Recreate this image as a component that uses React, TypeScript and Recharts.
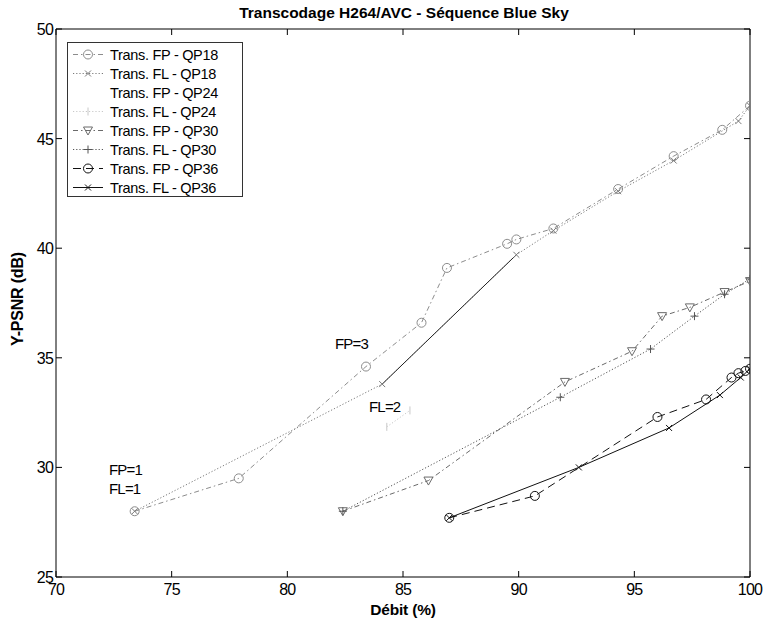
import React from 'react';
import { LineChart, Line, XAxis, YAxis, Legend } from 'recharts';

const xTicks = [70, 75, 80, 85, 90, 95, 100];
const yTicks = [25, 30, 35, 40, 45, 50];

const fpQp18 = [
  { x: 73.4, y: 28.0 }, { x: 77.9, y: 29.5 }, { x: 83.4, y: 34.6 }, { x: 85.8, y: 36.6 },
  { x: 86.9, y: 39.1 }, { x: 89.5, y: 40.2 }, { x: 89.9, y: 40.4 }, { x: 91.5, y: 40.9 },
  { x: 94.3, y: 42.7 }, { x: 96.7, y: 44.2 }, { x: 98.8, y: 45.4 }, { x: 100, y: 46.5 },
];
const flQp18 = [
  { x: 73.4, y: 28.0 }, { x: 84.1, y: 33.8 }, { x: 89.9, y: 39.7 }, { x: 91.5, y: 40.8 },
  { x: 94.3, y: 42.6 }, { x: 96.7, y: 44.0 }, { x: 99.5, y: 45.8 }, { x: 100, y: 46.5 },
];
const flQp18Solid = [{ x: 84.1, y: 33.8 }, { x: 89.9, y: 39.7 }];
const fpQp24: { x: number; y: number }[] = [];
const flQp24 = [{ x: 84.3, y: 31.85 }, { x: 85.3, y: 32.6 }];
const fpQp30 = [
  { x: 82.4, y: 28.0 }, { x: 86.1, y: 29.4 }, { x: 92.0, y: 33.9 }, { x: 94.9, y: 35.3 },
  { x: 96.2, y: 36.9 }, { x: 97.4, y: 37.3 }, { x: 98.9, y: 38.0 }, { x: 100, y: 38.5 },
];
const flQp30 = [
  { x: 82.4, y: 28.0 }, { x: 91.8, y: 33.2 }, { x: 95.7, y: 35.4 }, { x: 97.6, y: 36.9 },
  { x: 98.9, y: 37.9 }, { x: 100, y: 38.6 },
];
const fpQp36 = [
  { x: 87.0, y: 27.7 }, { x: 90.7, y: 28.7 }, { x: 96.0, y: 32.3 }, { x: 98.1, y: 33.1 },
  { x: 99.2, y: 34.1 }, { x: 99.5, y: 34.3 }, { x: 99.8, y: 34.4 }, { x: 100, y: 34.5 },
];
const flQp36 = [
  { x: 87.0, y: 27.7 }, { x: 92.6, y: 30.0 }, { x: 96.5, y: 31.8 }, { x: 98.7, y: 33.3 },
  { x: 99.6, y: 34.1 }, { x: 100, y: 34.5 },
];

const seriesNames = [
  'Trans. FP - QP18', 'Trans. FL - QP18', 'Trans. FP - QP24', 'Trans. FL - QP24',
  'Trans. FP - QP30', 'Trans. FL - QP30', 'Trans. FP - QP36', 'Trans. FL - QP36',
];

const FONT = '"Liberation Sans", Arial, Helvetica, sans-serif';

type Kind = 'circle' | 'tri' | 'plus' | 'cross' | 'vbar' | 'none';

const styles: { color: string; dash: string; marker: Kind; width: number }[] = [
  { color: '#8c8c8c', dash: '5 3 1.5 3', marker: 'circle', width: 1 },
  { color: '#7a7a7a', dash: '1.2 2', marker: 'cross', width: 1 },
  { color: '#ffffff', dash: '', marker: 'none', width: 1 },
  { color: '#c8c8c8', dash: '1.2 2', marker: 'vbar', width: 1 },
  { color: '#6a6a6a', dash: '5 3 1.5 3', marker: 'tri', width: 1 },
  { color: '#555555', dash: '1.2 2', marker: 'plus', width: 1 },
  { color: '#111111', dash: '8 5', marker: 'circle', width: 1 },
  { color: '#111111', dash: '', marker: 'cross', width: 1 },
];

function Marker({ kind, cx, cy, color }: { kind: Kind; cx: number; cy: number; color: string }) {
  if (kind === 'circle') return <circle cx={cx} cy={cy} r={4.5} fill="none" stroke={color} strokeWidth={1} />;
  if (kind === 'tri')
    return (
      <polygon
        points={`${cx - 4.5},${cy - 3.5} ${cx + 4.5},${cy - 3.5} ${cx},${cy + 4.5}`}
        fill="none" stroke={color} strokeWidth={1}
      />
    );
  if (kind === 'plus')
    return <path d={`M${cx - 4},${cy}H${cx + 4}M${cx},${cy - 4}V${cy + 4}`} stroke={color} strokeWidth={1} fill="none" />;
  if (kind === 'cross')
    return (
      <path d={`M${cx - 3},${cy - 3}L${cx + 3},${cy + 3}M${cx - 3},${cy + 3}L${cx + 3},${cy - 3}`} stroke={color} strokeWidth={1} fill="none" />
    );
  if (kind === 'vbar') return <path d={`M${cx},${cy - 4}V${cy + 4}`} stroke={color} strokeWidth={1} />;
  return null;
}

const dotFor = (i: number) => (p: any) => {
  const { cx, cy, index } = p;
  const key = `d-${i}-${index}`;
  if (cx == null || cy == null) return <g key={key} />;
  return (
    <g key={key}>
      <Marker kind={styles[i].marker} cx={cx} cy={cy} color={styles[i].color} />
    </g>
  );
};

const BottomTick = (p: any) => (
  <g>
    <line x1={p.x} y1={p.y} x2={p.x} y2={p.y - 6} stroke="#000" />
    <text x={p.x} y={p.y + 18} textAnchor="middle" fontSize={16} fontFamily={FONT} fill="#000" letterSpacing={-0.8}>
      {p.payload.value}
    </text>
  </g>
);
const TopTick = (p: any) => <line x1={p.x} y1={p.y} x2={p.x} y2={p.y + 6} stroke="#000" />;
const LeftTick = (p: any) => (
  <g>
    <line x1={p.x} y1={p.y} x2={p.x + 6} y2={p.y} stroke="#000" />
    <text x={p.x - 3} y={p.y + 6} textAnchor="end" fontSize={16} fontFamily={FONT} fill="#000" letterSpacing={-0.8}>
      {p.payload.value}
    </text>
  </g>
);
const RightTick = (p: any) => <line x1={p.x} y1={p.y} x2={p.x - 6} y2={p.y} stroke="#000" />;

const renderLegend = () => (
  <div
    style={{
      width: 176, height: 155, boxSizing: 'border-box', border: '1px solid #333', background: '#fff',
      paddingTop: 2, fontFamily: FONT,
    }}
  >
    {seriesNames.map((n, i) => (
      <div key={n} style={{ display: 'flex', alignItems: 'center', height: 19 }}>
        <svg width={42} height={19} style={{ display: 'block' }}>
          {styles[i].color !== '#ffffff' ? (
            <line x1={5} y1={9.5} x2={35} y2={9.5} stroke={styles[i].color} strokeDasharray={styles[i].dash || undefined} />
          ) : null}
          <Marker kind={styles[i].marker} cx={20} cy={9.5} color={styles[i].color} />
        </svg>
        <span style={{ fontSize: 14.5, color: '#000', letterSpacing: -0.3, whiteSpace: 'nowrap' }}>{n}</span>
      </div>
    ))}
  </div>
);

const seriesData = [fpQp18, flQp18, fpQp24, flQp24, fpQp30, flQp30, fpQp36, flQp36];

const abs = (left: number, top: number, extra: React.CSSProperties = {}): React.CSSProperties => ({
  position: 'absolute', left, top, fontFamily: FONT, color: '#000', whiteSpace: 'nowrap', lineHeight: 1, ...extra,
});

export default function App() {
  return (
    <div style={{ position: 'absolute', left: 0, top: 0, width: 766, height: 621, background: '#fff' }}>
      <LineChart width={766} height={621} margin={{ top: 28, right: 15, bottom: 43, left: 55 }}>
        <XAxis xAxisId="b" type="number" dataKey="x" domain={[70, 100]} ticks={xTicks} height={1}
          tickSize={0} tickMargin={0} tickLine={false} axisLine={{ stroke: '#000' }} tick={<BottomTick />}
          allowDataOverflow interval={0} />
        <XAxis xAxisId="t" orientation="top" type="number" dataKey="x" domain={[70, 100]} ticks={xTicks} height={1}
          tickSize={0} tickMargin={0} tickLine={false} axisLine={{ stroke: '#000' }} tick={<TopTick />}
          allowDataOverflow interval={0} />
        <YAxis yAxisId="l" type="number" domain={[25, 50]} ticks={yTicks} width={1}
          tickSize={0} tickMargin={0} tickLine={false} axisLine={{ stroke: '#000' }} tick={<LeftTick />}
          allowDataOverflow interval={0} />
        <YAxis yAxisId="r" orientation="right" type="number" domain={[25, 50]} ticks={yTicks} width={1}
          tickSize={0} tickMargin={0} tickLine={false} axisLine={{ stroke: '#000' }} tick={<RightTick />}
          allowDataOverflow interval={0} />
        {seriesData.map((d, i) => (
          <Line
            key={seriesNames[i]}
            xAxisId="b"
            yAxisId="l"
            data={d}
            dataKey="y"
            name={seriesNames[i]}
            type="linear"
            stroke={styles[i].color}
            strokeWidth={styles[i].width}
            strokeDasharray={styles[i].dash || undefined}
            dot={dotFor(i)}
            activeDot={false}
            isAnimationActive={false}
          />
        ))}
        <Line
          xAxisId="b"
          yAxisId="l"
          data={flQp18Solid}
          dataKey="y"
          name="segment"
          legendType="none"
          type="linear"
          stroke="#222"
          strokeWidth={1}
          dot={false}
          activeDot={false}
          isAnimationActive={false}
        />
        <Legend
          layout="vertical"
          align="center"
          verticalAlign="middle"
          content={renderLegend}
          wrapperStyle={{ position: 'absolute', left: 67, top: 42, width: 176, height: 155 }}
        />
      </LineChart>
      <div style={abs(404, 13, { transform: 'translate(-50%,-50%)', fontSize: 15.5, fontWeight: 'bold', letterSpacing: 0 })}>
        Transcodage H264/AVC - Séquence Blue Sky
      </div>
      <div style={abs(403, 610, { transform: 'translate(-50%,-50%)', fontSize: 15.5, fontWeight: 'bold', letterSpacing: -0.2 })}>
        Débit (%)
      </div>
      <div style={abs(18, 299, { transform: 'translate(-50%,-50%) rotate(-90deg)', fontSize: 16, fontWeight: 'bold', letterSpacing: -0.2 })}>
        Y-PSNR (dB)
      </div>
      <div style={abs(109, 462, { fontSize: 15, letterSpacing: -0.8 })}>FP=1</div>
      <div style={abs(109, 481, { fontSize: 15, letterSpacing: -0.8 })}>FL=1</div>
      <div style={abs(335, 336, { fontSize: 15, letterSpacing: -0.8 })}>FP=3</div>
      <div style={abs(369, 399, { fontSize: 15, letterSpacing: -0.8 })}>FL=2</div>
    </div>
  );
}
